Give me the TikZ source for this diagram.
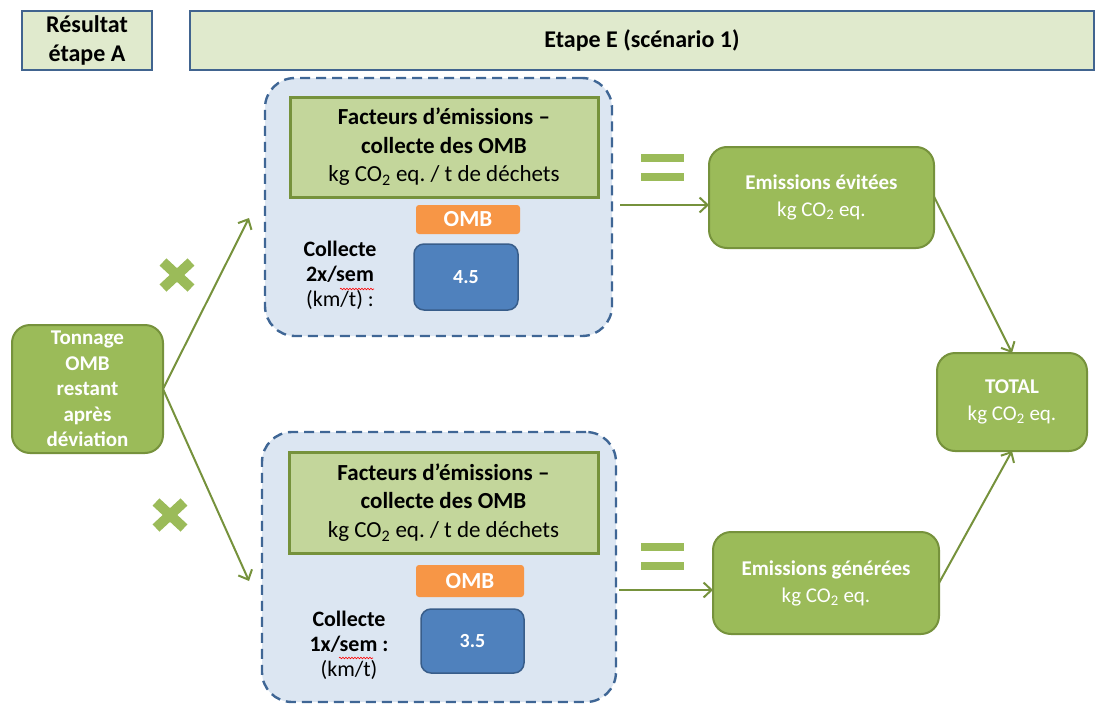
\documentclass[tikz,border=0pt]{standalone}
\usepackage{fontspec}
\setmainfont{Carlito}
\usetikzlibrary{arrows.meta,decorations.pathmorphing}

\definecolor{hdrfill}{HTML}{E0EACD}
\definecolor{hdrline}{HTML}{41648F}
\definecolor{contfill}{HTML}{DCE6F2}
\definecolor{contline}{HTML}{3F6695}
\definecolor{facfill}{HTML}{C3D69B}
\definecolor{grn}{HTML}{9BBB59}
\definecolor{grnline}{HTML}{76923C}
\definecolor{orng}{HTML}{F79646}
\definecolor{blu}{HTML}{4F81BD}
\definecolor{bluline}{HTML}{385D8A}

\tikzset{
  box/.style={inner sep=0pt, outer sep=0pt, align=center},
  hdr/.style={box, draw=hdrline, line width=2pt, fill=hdrfill,
    font=\fontsize{24}{29}\selectfont\bfseries},
  cont/.style={box, draw=contline, fill=contfill, line width=2.4pt,
    dash pattern=on 10pt off 6pt, rounded corners=30pt},
  facbox/.style={box, draw=grnline, fill=facfill, line width=3pt,
    font=\fontsize{23}{28.5}\selectfont},
  ombbox/.style={box, fill=orng, rounded corners=3pt, text=white,
    font=\fontsize{23}{25}\selectfont\bfseries},
  valbox/.style={box, fill=blu, draw=bluline, line width=1.5pt,
    rounded corners=10pt, text=white, font=\fontsize{20}{22}\selectfont\bfseries},
  gbox/.style={box, fill=grn, draw=grnline, line width=2pt,
    rounded corners=18pt, text=white, font=\fontsize{21}{27}\selectfont},
  lbl/.style={box, font=\fontsize{22}{25}\selectfont},
  arr/.style={draw=grnline, line width=2pt, -{Straight Barb[length=8pt,width=15pt,line width=2pt]}},
  eqbar/.style={fill=grn},
  cross/.style={draw=grn, line width=10pt},
  squiggle/.style={draw=red, line width=0.6pt,
    decorate, decoration={snake, amplitude=0.8pt, segment length=3pt}}
}

\begin{document}
\begin{tikzpicture}[x=1pt,y=-1pt]
\useasboundingbox (0,0) rectangle (1096,707);

% headers
\node[hdr, minimum width=130, minimum height=59] (resA) at (87,40.5)
  {Résultat\\étape A};
\node[hdr, minimum width=904, minimum height=59] (etapeE) at (642,40.5)
  {Etape E (scénario 1)};

% upper branch (collection twice a week)
\node[cont, minimum width=347, minimum height=258] (topc) at (438.5,207) {};
\node[facbox, minimum width=308, minimum height=100] (topf) at (444,147)
  {\textbf{Facteurs d’émissions –}\\\textbf{collecte des OMB}\\kg CO\textsubscript{2} eq.\ / t de déchets};
\node[ombbox, minimum width=104, minimum height=29] (topomb) at (468,219.5) {OMB};
\node[valbox, minimum width=104, minimum height=66] (topval) at (466,277) {4.5};
\node[lbl] (toplbl) at (340,275) {\textbf{Collecte}\\\textbf{2x/sem}\\(km/t) :};
\draw[squiggle] (340,289) -- (374,289);

% lower branch (collection once a week)
\node[cont, minimum width=354, minimum height=270] (botc) at (439,567) {};
\node[facbox, minimum width=309, minimum height=101] (botf) at (443.5,502.5)
  {\textbf{Facteurs d’émissions –}\\\textbf{collecte des OMB}\\kg CO\textsubscript{2} eq.\ / t de déchets};
\node[ombbox, minimum width=108, minimum height=32] (botomb) at (470,581) {OMB};
\node[valbox, minimum width=103, minimum height=64] (botval) at (472.5,641) {3.5};
\node[lbl] (botlbl) at (349,645) {\textbf{Collecte}\\\textbf{1x/sem :}\\(km/t)};
\draw[squiggle] (339,658) -- (373,658);

% input tonnage
\node[gbox, minimum width=151, minimum height=128, text width=145,
  font=\fontsize{21}{25.5}\selectfont\bfseries] (ton) at (87.5,389)
  {Tonnage\\OMB\\restant\\après\\déviation};

% results
\node[gbox, minimum width=225, minimum height=101] (evit) at (821.5,197.5)
  {\textbf{Emissions évitées}\\kg CO\textsubscript{2} eq.};
\node[gbox, minimum width=226, minimum height=102] (gene) at (826,583)
  {\textbf{Emissions générées}\\kg CO\textsubscript{2} eq.};
\node[gbox, minimum width=150, minimum height=98] (total) at (1012,402)
  {\textbf{TOTAL}\\kg CO\textsubscript{2} eq.};

% multiplication signs
\foreach \cx/\cy/\nm in {177/275/xtop, 170/515/xbot}{
  \coordinate (\nm) at (\cx,\cy);
  \draw[cross] ([shift={(-14,-13)}]\nm) -- ([shift={(14,13)}]\nm);
  \draw[cross] ([shift={(-14,13)}]\nm) -- ([shift={(14,-13)}]\nm);
}

% equals signs
\foreach \ey in {154,543}{
  \fill[eqbar] (641,\ey) rectangle (684,\ey+8);
  \fill[eqbar] (641,\ey+19) rectangle (684,\ey+27);
}

% connectors
\coordinate (toptip) at (249,218);
\coordinate (bottip) at (249,581);
\coordinate (topout) at (620,205);
\coordinate (botout) at (619,590);
\draw[arr] (ton.east) -- (toptip);
\draw[arr] (ton.east) -- (bottip);
\draw[arr] (topout) -- (evit.west |- topout);
\draw[arr] (botout) -- (gene.west |- botout);
\draw[arr] ([yshift=1pt]evit.east) -- (total.north);
\draw[arr] (gene.east) -- (total.south);
\end{tikzpicture}
\end{document}
